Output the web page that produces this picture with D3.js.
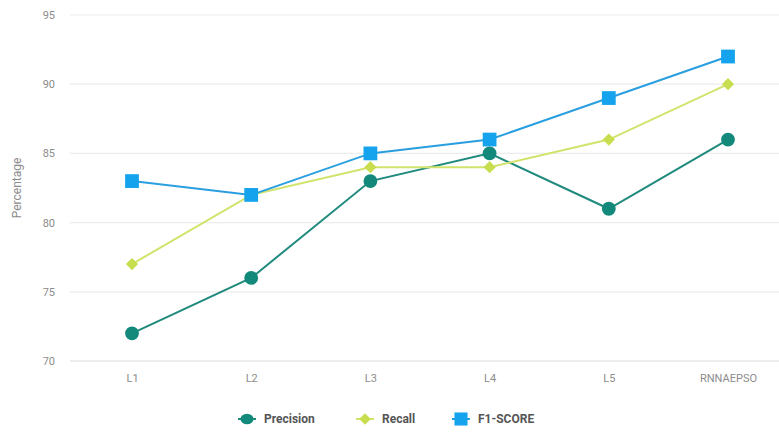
<!DOCTYPE html>
<html lang="en">
<head>
<meta charset="utf-8">
<title>Precision / Recall / F1</title>
<script src="https://d3js.org/d3.v7.min.js"></script>
<style>
  body { margin: 0; background: #fff; }
  text { font-family: Roboto, "Noto Sans", sans-serif; }
</style>
</head>
<body>
<script>
// data
var categories = ["L1", "L2", "L3", "L4", "L5", "RNNAEPSO"];
var precision = [72, 76, 83, 85, 81, 86];
var recall = [77, 82, 84, 84, 86, 90];
var f1score = [83, 82, 85, 86, 89, 92];
var yTicks = [70, 75, 80, 85, 90, 95];

var w = 779, h = 434;

var series = [
  { name: "Precision", values: precision, color: "#12897a", line: "#1f8a7d", shape: d3.symbolCircle, size: 150, rot: 0 },
  { name: "Recall", values: recall, color: "#c8de4f", line: "#d2e36b", shape: d3.symbolSquare, size: 75, rot: 45 },
  { name: "F1-SCORE", values: f1score, color: "#14a3ec", line: "#2a9fe0", shape: d3.symbolSquare, size: 190, rot: 0 }
];

var svg = d3.select("body").append("svg")
  .attr("width", w)
  .attr("height", h);

var x = d3.scalePoint()
  .domain(categories)
  .range([132, 728]);

var y = d3.scaleLinear()
  .domain([70, 95])
  .range([361, 15]);

// grid lines
svg.append("g")
  .selectAll("line")
  .data(yTicks)
  .enter()
  .append("line")
  .attr("x1", 70)
  .attr("x2", 779)
  .attr("y1", function(d) { return y(d); })
  .attr("y2", function(d) { return y(d); })
  .attr("stroke", function(d) { return d === 70 ? "#dcdcdc" : "#ececec"; })
  .attr("stroke-width", 1.2);

// y axis labels
var yAxis = d3.axisLeft(y).tickValues(yTicks).tickSize(0).tickPadding(0);
svg.append("g")
  .attr("transform", "translate(55,0)")
  .call(yAxis)
  .call(function(g) { g.select(".domain").remove(); })
  .selectAll("text")
  .attr("fill", "#8c8c8c")
  .style("font-size", "11px");

// x axis labels
var xAxis = d3.axisBottom(x).tickSize(0).tickPadding(0);
svg.append("g")
  .attr("transform", "translate(0,374)")
  .call(xAxis)
  .call(function(g) { g.select(".domain").remove(); })
  .selectAll("text")
  .attr("fill", "#8c8c8c")
  .style("font-size", "11px");

// y title
svg.append("text")
  .attr("transform", "translate(21,188) rotate(-90)")
  .attr("text-anchor", "middle")
  .attr("fill", "#8c8c8c")
  .style("font-size", "12px")
  .text("Percentage");

// lines + markers
var line = d3.line()
  .x(function(d, i) { return x(categories[i]); })
  .y(function(d) { return y(d); });

series.forEach(function(s) {
  svg.append("path")
    .datum(s.values)
    .attr("fill", "none")
    .attr("stroke", s.line)
    .attr("stroke-width", 2)
    .attr("d", line);
});

series.forEach(function(s) {
  svg.append("g")
    .selectAll("path")
    .data(s.values)
    .enter()
    .append("path")
    .attr("transform", function(d, i) {
      return "translate(" + x(categories[i]) + "," + y(d) + ") rotate(" + s.rot + ")";
    })
    .attr("d", d3.symbol().type(s.shape).size(s.size))
    .attr("fill", s.color);
});

// legend
var legendX = [247, 365, 461];
var legend = svg.append("g");
series.forEach(function(s, i) {
  var g = legend.append("g").attr("transform", "translate(" + legendX[i] + ",419)");
  g.append("line")
    .attr("x1", -9).attr("x2", 9)
    .attr("stroke", s.line).attr("stroke-width", 2);
  g.append("path")
    .attr("d", d3.symbol().type(s.shape).size(s.size * 0.9))
    .attr("transform", s.shape === d3.symbolCircle ? "scale(1,0.8)" : "rotate(" + s.rot + ")")
    .attr("fill", s.color);
  g.append("text")
    .attr("x", 17)
    .attr("dy", "0.35em")
    .attr("fill", "#555")
    .style("font-size", "12px")
    .style("font-weight", "bold")
    .text(s.name);
});
</script>
</body>
</html>
